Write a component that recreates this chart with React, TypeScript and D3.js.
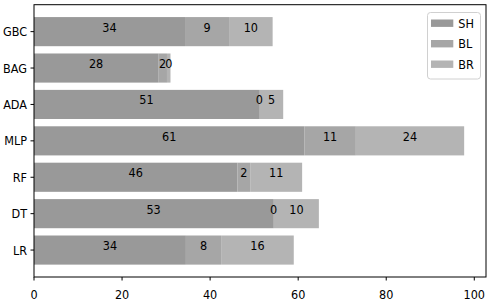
import React from "react";
import * as d3 from "d3";

const categories = ["LR", "DT", "RF", "MLP", "ADA", "BAG", "GBC"];
const seriesNames = ["SH", "BL", "BR"];
const shValues = [34.5, 54.3, 46.2, 61.4, 51.1, 28.2, 34.3];
const blValues = [8.0, 0.2, 2.9, 11.7, 0.2, 2.0, 10.0];
const brValues = [16.5, 10.2, 11.8, 24.6, 5.3, 0.8, 9.9];
const shLabels = ["34", "53", "46", "61", "51", "28", "34"];
const blLabels = ["8", "0", "2", "11", "0", "2", "9"];
const brLabels = ["16", "10", "11", "24", "5", "0", "10"];
const xTicks = [0, 20, 40, 60, 80, 100];
const colors = ["#999999", "#a6a6a6", "#b4b4b4"];

const W = 490;
const H = 306;
const left = 34;
const right = 486;
const top = 4.7;
const bottom = 277;
const FONT = "'DejaVu Sans Condensed', 'DejaVu Sans', sans-serif";

export default function App() {
  const x = d3.scaleLinear().domain([0, 102.66]).range([left, right]);
  const y = d3.scaleLinear().domain([-0.74, 6.74]).range([bottom, top]);
  const bh = y(0) - y(0.8);
  const series = [shValues, blValues, brValues];
  const labels = [shLabels, blLabels, brLabels];
  const stack = d3
    .stack<number>()
    .keys([0, 1, 2] as any)
    .value((i: number, k: any) => series[k][i])(d3.range(categories.length));

  return (
    <svg
      width={W}
      height={H}
      style={{ position: "absolute", left: 0, top: 0 }}
      fontFamily={FONT}
    >
      <rect x={0} y={0} width={W} height={H} fill="#fff" />
      {stack.map((layer, k) => (
        <g key={k}>
          {layer.map((d, i) => (
            <rect
              key={i}
              x={x(d[0])}
              width={x(d[1]) - x(d[0])}
              y={y(i) - bh / 2}
              height={bh}
              fill={colors[k]}
            />
          ))}
        </g>
      ))}
      {stack.map((layer, k) => (
        <g key={"t" + k}>
          {layer.map((d, i) => (
            <text
              key={i}
              x={(x(d[0]) + x(d[1])) / 2}
              y={y(i)}
              textAnchor="middle"
              fontSize={12.5}
              fill="#000"
            >
              {labels[k][i]}
            </text>
          ))}
        </g>
      ))}
      <rect
        x={left}
        y={top}
        width={right - left}
        height={bottom - top}
        fill="none"
        stroke="#000"
        strokeWidth={1}
      />
      {categories.map((c, i) => (
        <g key={c}>
          <line x1={left - 3.5} x2={left} y1={y(i)} y2={y(i)} stroke="#000" />
          <text
            x={left - 7}
            y={y(i)}
            textAnchor="end"
            dominantBaseline="central"
            fontSize={12.5}
          >
            {c}
          </text>
        </g>
      ))}
      {xTicks.map((t) => (
        <g key={t}>
          <line x1={x(t)} x2={x(t)} y1={bottom} y2={bottom + 3.5} stroke="#000" />
          <text
            x={x(t)}
            y={bottom + 17.7}
            textAnchor="middle"
            dominantBaseline="central"
            fontSize={12.5}
          >
            {t}
          </text>
        </g>
      ))}
      <rect
        x={427.5}
        y={12.5}
        width={53}
        height={66.5}
        rx={3}
        fill="#fff"
        fillOpacity={0.8}
        stroke="#d0d0d0"
        strokeWidth={1}
      />
      {seriesNames.map((s, k) => (
        <g key={s}>
          <rect x={431} y={19.5 + k * 20.5} width={22.3} height={7.4} fill={colors[k]} />
          <text
            x={458.3}
            y={23.4 + k * 20.5}
            dominantBaseline="central"
            fontSize={12.5}
          >
            {s}
          </text>
        </g>
      ))}
    </svg>
  );
}
